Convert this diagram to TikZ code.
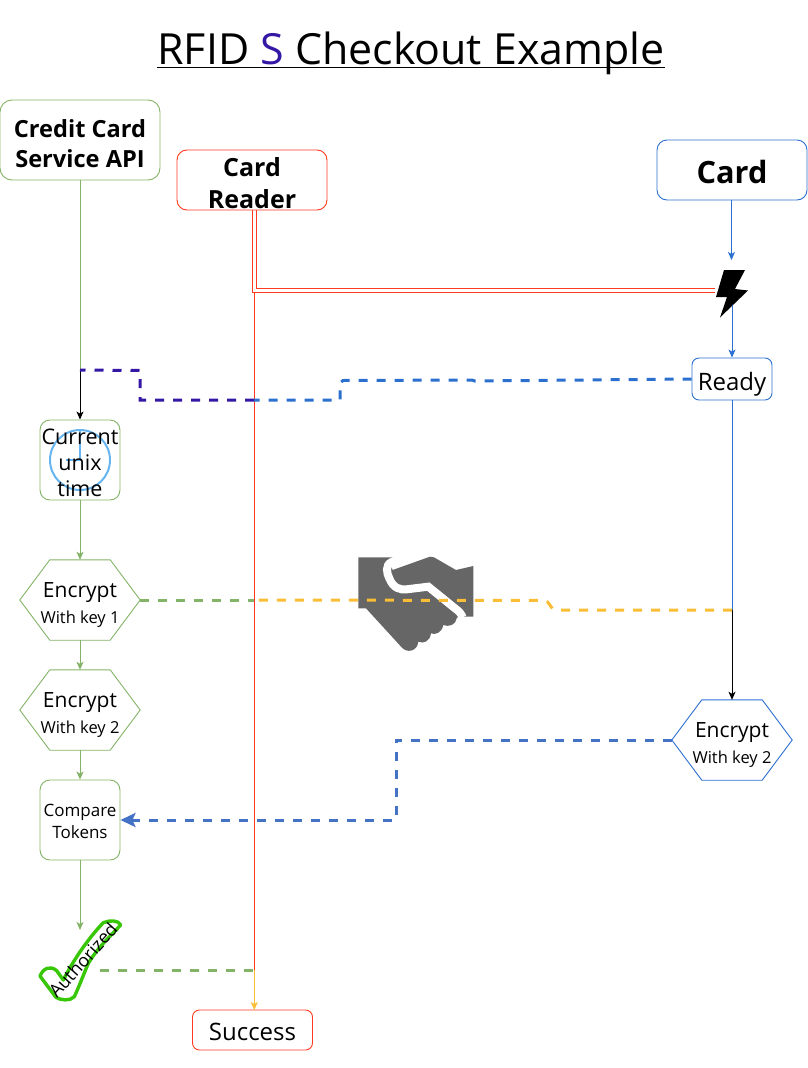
\documentclass[tikz,border=0pt]{standalone}
\usepackage{fontspec}
\setmainfont{Open Sans}
\usetikzlibrary{arrows.meta,calc}
\definecolor{grn}{HTML}{82B366}
\definecolor{redl}{HTML}{FF3A1F}
\definecolor{blu}{HTML}{2B6FCF}
\definecolor{dblu}{HTML}{4472C4}
\definecolor{pur}{HTML}{3517A6}
\definecolor{yel}{HTML}{F9BD36}
\definecolor{chk}{HTML}{38C706}
\definecolor{hand}{HTML}{666666}
\definecolor{clkc}{HTML}{66B5F0}
\newcommand{\dn}[1]{\rule{0pt}{#1em}}
\tikzset{
  x=1pt,y=-1pt,
  box/.style={draw,line width=.9pt,rounded corners=#1,inner sep=0pt,align=center},
  box/.default=10pt,
  hexnode/.style={inner sep=0pt,minimum width=120pt,minimum height=80pt,align=center},
  arr/.style={-{Stealth[length=8pt,width=7pt,inset=2pt]},line width=1pt},
  plain/.style={line width=1pt},
  dsh/.style={line width=3pt,dash pattern=on 9pt off 9pt},
}
\newcommand{\hexa}[6]{% name x y color line1 line2
  \node[hexnode] (#1) at (#2,#3) {\rule{0pt}{25pt}\fontsize{21}{24}\selectfont #5\\[7pt]\fontsize{16.5}{20}\selectfont #6};
  \draw[#4,line width=.9pt] (#1.west)--($(#1.north west)+(30,0)$)--($(#1.north east)+(-30,0)$)--(#1.east)--($(#1.south east)+(-30,0)$)--($(#1.south west)+(30,0)$)--cycle;
}
\begin{document}
\begin{tikzpicture}
\useasboundingbox (0,0) rectangle (808,1068);
% title
\node[inner sep=0pt,anchor=base] (title) at (411,64) {\fontsize{42.9}{50}\selectfont RFID \textcolor{pur}{S} Checkout Example};
\draw[line width=1.8pt] ($(title.base west)+(0,3.5)$)--($(title.base east)+(0,3.5)$);
% boxes
\node[box=12pt,draw=grn,minimum width=160pt,minimum height=80pt,font=\bfseries\fontsize{23.6}{30}\selectfont] (api) at (80,140) {\dn{1.05}Credit Card\\Service API};
\node[box,draw=redl,minimum width=150pt,minimum height=60pt,font=\bfseries\fontsize{25}{32}\selectfont] (reader) at (252,180) {\dn{.97}Card\\Reader};
\node[box,draw=blu,minimum width=150pt,minimum height=60pt,font=\bfseries\fontsize{30.7}{36}\selectfont] (card) at (732,170) {\dn{.92}Card};
\node[box=7pt,draw=blu,minimum width=80pt,minimum height=42pt,font=\fontsize{24}{28}\selectfont] (ready) at (732,379) {\dn{1.22}Ready};
% clock
\coordinate (clk) at (80,460);
\draw[clkc,line width=2pt] (clk) circle (30);
\draw[clkc,line width=1.5pt] (80,431)--(clk)--(66,460);
\node[box,draw=grn,minimum width=80pt,minimum height=80pt,font=\fontsize{21.5}{26}\selectfont] (time) at (80,460) {\dn{.96}Current\\unix\\time};
\hexa{enc1}{80}{600}{grn}{Encrypt}{With key 1}
\hexa{enc2}{80}{710}{grn}{Encrypt}{With key 2}
\hexa{enc3}{732}{740}{blu}{Encrypt}{With key 2}
\node[box,draw=grn,minimum width=80pt,minimum height=80pt,font=\fontsize{17}{22}\selectfont] (cmp) at (80,820) {\dn{.93}Compare\\Tokens};
\node[box=7pt,draw=redl,minimum width=120pt,minimum height=40pt,font=\fontsize{24}{28}\selectfont] (succ) at (252.5,1030) {\dn{.88}Success};
% bolt
\coordinate (boltc) at (732,294);
\fill[black] (724,270)--(745,270)--(735,289)--(748,290.5)--(720,317.5)--(727,297)--(716,297)--cycle;
% handshake
\coordinate (hs) at (416,600);
\begin{scope}[shift={(330,540)},x=.3333pt,y=-.3333pt]
\fill[hand] (85,52)--(218,52)--(178,66)--(188,90)--(300,50)--(312,52)--(378,90)--(430,78)--(430,230)--(405,230)
 .. controls (385,225) and (380,235) .. (380,235)
 .. controls (378,255) and (355,262) .. (340,255)
 .. controls (335,280) and (315,285) .. (303,280)
 .. controls (300,305) and (280,312) .. (265,305)
 .. controls (262,335) and (230,340) .. (215,322)
 --(108,205)--(85,205)--cycle;
\draw[white,line width=8pt,line cap=butt] (222,50)--(185,66) .. controls (165,75) and (170,100) .. (178,115) .. controls (190,145) and (210,150) .. (230,148)--(295,140)--(375,205) .. controls (390,215) and (395,225) .. (398,232);
\end{scope}
% connectors
\coordinate (a1) at (80,370);
\draw[plain,grn] (api.south)--(a1);
\draw[arr,black] (a1)--(time.north);
\draw[arr,grn] (time.south)--(enc1.north);
\draw[arr,grn] (enc1.south)--(enc2.north);
\draw[arr,grn] (enc2.south)--(cmp.north);
\coordinate (chkt) at (80,930);
\draw[arr,grn] (cmp.south)--(chkt);
% reader
\coordinate (r1) at ($(reader.south)+(.7,0)$);
\coordinate (r2) at ($(reader.south)+(4.3,0)$);
\coordinate (rjoin) at (254.3,292);
\coordinate (rr1) at (715,292);
\coordinate (rr2) at (715,288.3);
\draw[redl,plain] (r1)--(252.7,292)--(rr1);
\draw[redl,plain] (r2)--(256.3,288.3)--(rr2);
\coordinate (yy) at (254.3,970);
\draw[redl,plain] (rjoin)--(yy);
\draw[arr,yel] (yy)--(254.3,1010);
% card
\coordinate (b1) at (731.5,260);
\draw[arr,blu] (731.5,200)--(b1);
\coordinate (b2) at (732,305);
\draw[arr,blu] (b2)--(ready.north);
\coordinate (b3) at (732,610);
\draw[plain,blu] (ready.south)--(b3);
\draw[arr,black] (b3)--(enc3.north);
% dashed
\coordinate (d1) at (254,400);
\draw[dsh,blu] (ready.west)--(475,381)--(472,380)--(343,380.5)--(340,383)--(340,400)--(d1);
\draw[dsh,pur] (d1)--(140,400)--(140,370.5)--(a1);
\coordinate (y1) at (254,600);
\draw[dsh,yel] (b3)--(556,610) to[out=180,in=0] (544,600.5) --(y1);
\draw[dsh,grn] (enc1.east)--(y1);
\draw[dsh,dblu,-{Stealth[length=15pt,width=14pt,inset=3pt]}] (enc3.west)--(396,740)--(396,820)--(cmp.east);
% check
\begin{scope}[shift={(20,900)},x=.3333pt,y=-.3333pt]
\draw[chk,line width=3.4pt,line join=round] (60,228) .. controls (70,205) and (90,195) .. (110,212) -- (130,240) .. controls (155,190) and (200,120) .. (250,68) .. controls (270,60) and (295,60) .. (302,75) .. controls (270,110) and (235,140) .. (205,190) .. controls (190,225) and (175,265) .. (163,290) .. controls (150,305) and (120,300) .. (108,292) -- cycle;
\end{scope}
\node[rotate=48,inner sep=0pt,font=\fontsize{18}{20}\selectfont] (auth) at (83,960) {Authorized};
\coordinate (c1) at (100,970);
\draw[dsh,grn] (c1)--(yy);
\end{tikzpicture}
\end{document}
